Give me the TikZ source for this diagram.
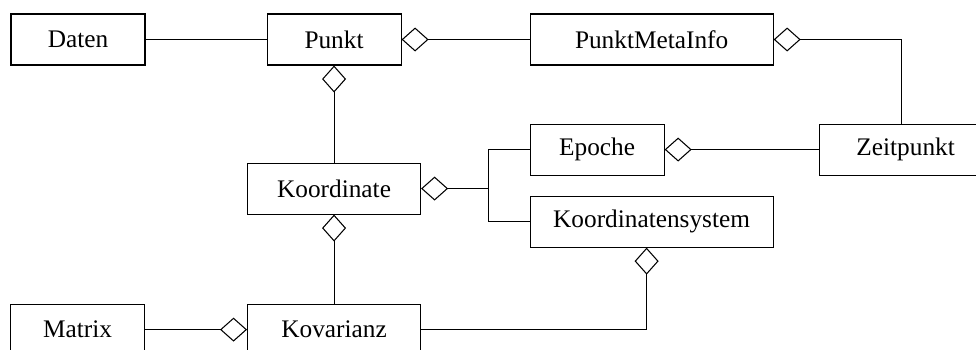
\documentclass[tikz,border=0pt]{standalone}
\usepackage{fontspec}
\setmainfont{Liberation Serif}
\usetikzlibrary{positioning,arrows.meta}

\begin{document}
\begin{tikzpicture}[
        line width=0.6pt,
        every node/.style={font=\fontsize{14.4}{17}\selectfont},
        block/.style={rectangle, draw, minimum width=3.46cm, minimum height=1.02cm},
        narrow/.style={block, minimum width=2.68cm},
        wide/.style={block, minimum width=4.86cm},
        agg/.style={-{Diamond[open, length=5.4mm, width=4.8mm]}}
    ]
    \useasboundingbox (-1.56,0.79) rectangle (17.96,-6.19);

    % Top row
    \node[narrow] (daten) {Daten};
    \node[narrow, right=2.42cm of daten] (punkt) {Punkt};
    \node[wide, right=2.56cm of punkt] (metainfo) {PunktMetaInfo};

    % Middle
    \node[block, below=1.94cm of punkt] (koordinate) {Koordinate};
    \node[narrow, below=1.16cm of metainfo.south west, anchor=north west] (epoche) {Epoche};
    \node[wide, below=0.4cm of epoche.south west, anchor=north west] (ksystem) {Koordinatensystem};
    \node[block, right=3.08cm of epoche] (zeitpunkt) {Zeitpunkt};
    \coordinate[right=1.34cm of koordinate.east] (branch);

    % Bottom row
    \node[block, below=1.78cm of koordinate] (kovarianz) {Kovarianz};
    \node[narrow, left=2.04cm of kovarianz] (matrix) {Matrix};

    % Connect everything
    \draw (daten) -- (punkt);
    \draw[agg] (metainfo) -- (punkt);
    \draw[agg] (koordinate) -- (punkt);
    \draw[agg] ([xshift=-0.08cm]zeitpunkt.north) |- (metainfo.east);
    \draw[agg] (zeitpunkt) -- (epoche);
    \draw[agg] (branch) -- (koordinate.east);
    \draw (epoche.west) -| (branch) |- (ksystem.west);
    \draw[agg] (kovarianz) -- (koordinate);
    \draw[agg] (matrix) -- (kovarianz);
    \draw[agg] (kovarianz.east) -| ([xshift=-0.1cm]ksystem.south);
\end{tikzpicture}
\end{document}
